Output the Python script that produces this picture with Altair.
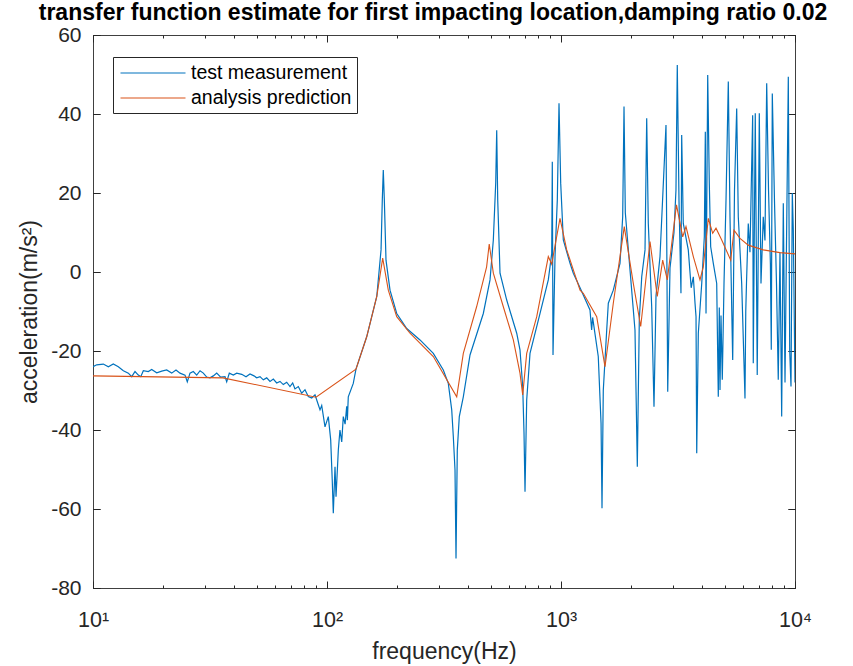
import altair as alt
import pandas as pd

# ---- data ----
blue_freq = [10.0, 10.37, 11.07, 11.63, 12.21, 12.83, 13.48, 14.16, 14.64, 15.12, 15.62, 16.0, 16.41, 17.23,
             17.82, 18.72, 19.67, 20.65, 21.69, 22.63, 23.54, 24.73, 25.29, 25.97, 26.83, 27.75, 28.67, 29.61,
             30.61, 31.62, 32.67, 33.78, 35.13, 36.65, 37.27, 38.24, 39.78, 41.13, 43.21, 45.07, 46.87, 48.75,
             50.08, 51.73, 53.44, 55.25, 57.08, 58.97, 60.95, 62.97, 65.05, 67.27, 69.48, 71.35, 72.98, 75.40,
             77.97, 80.54, 83.20, 86.03, 88.87, 91.81, 93.35, 94.93, 98.06, 101.3, 103.7, 105.3, 106.4, 108.2,
             109.3, 111.8, 113.6, 115.6, 117.4, 119.5, 121.4, 122.2, 123.3, 129.5, 133.0, 147.8, 163.2, 170.2,
             172.3, 174.0, 175.8, 178.7, 185.9, 198.6, 219.1, 249.7, 284.7, 314.1, 329.9, 341.2, 346.6, 352.4,
             355.9, 360.4, 367.6, 382.4, 408.5, 465.6, 497.4, 513.8, 526.0, 531.2, 536.5, 548.8, 586.1, 646.8,
             667.9, 686.0, 694.9, 701.8, 713.5, 737.1, 813.6, 882.5, 912.7, 918.0, 924.4, 942.9, 964.3, 980.6,
             997.1, 1023, 1093, 1129, 1206, 1330, 1352, 1365, 1443, 1483, 1497, 1516, 1568, 1593, 1673, 1787,
             1835, 1859, 1883, 1972, 2071, 2119, 2161, 2213, 2286, 2324, 2361, 2441, 2497, 2547, 2649, 2810,
             2858, 2923, 3040, 3100, 3140, 3193, 3256, 3279, 3331, 3499, 3600, 3677, 3740, 3776, 3802, 3862,
             3994, 4097, 4138, 4166, 4236, 4303, 4362, 4476, 4628, 4701, 4748, 4781, 4828, 4890, 4973, 5072,
             5188, 5275, 5417, 5514, 5634, 5723, 5918, 6054, 6113, 6160, 6204, 6314, 6420, 6593, 6632, 6764,
             6896, 7038, 7156, 7318, 7441, 7569, 7706, 7850, 7919, 7998, 8172, 8335, 8481, 8626, 8772, 8913,
             9064, 9216, 9363, 9493, 9614, 9738, 9834, 10000]
blue_val = [-24.0, -23.5, -23.3, -24.0, -23.3, -24.0, -25.0, -25.6, -26.5, -25.2, -26.1, -26.5, -25.0, -25.2,
            -24.7, -25.5, -25.1, -24.8, -25.6, -24.8, -25.6, -26.1, -27.8, -25.6, -25.2, -26.1, -25.0, -25.6,
            -26.6, -26.8, -26.3, -25.6, -26.6, -26.5, -27.8, -25.6, -26.1, -25.6, -25.9, -26.5, -25.8, -26.3,
            -26.8, -26.5, -27.3, -26.8, -27.7, -27.1, -28.1, -27.7, -28.5, -27.9, -29.0, -28.1, -29.6, -29.0,
            -30.7, -29.8, -31.5, -31.9, -31.1, -33.6, -34.9, -33.8, -39.2, -36.6, -42.5, -52.7, -61.1, -49.3,
            -56.9, -45.0, -40.0, -43.0, -36.6, -38.5, -34.0, -37.5, -31.6, -28.2, -24.6, -16.4, -6.2, 5.6,
            18.2, 25.8, 18.2, 3.0, -4.6, -10.5, -14.3, -17.2, -20.6, -24.8, -28.2, -34.9, -41.7, -50.1,
            -72.5, -45.1, -36.6, -31.6, -21.0, -10.5, -2.0, 8.1, 22.5, 35.9, 18.2, -0.3, -7.1, -15.5,
            -19.7, -29.0, -40.8, -55.6, -32.4, -20.6, -10.5, -2.0, 4.7, 27.9, -21.0, 4.0, 18.2, 42.7,
            22.5, 8.1, 2.2, -0.3, -4.0, -9.6, -14.7, -11.5, -21.4, -38.3, -59.8, -30.0, -14.7, -7.9, -4.6, 2.2,
            14.0, 41.9, 15.0, 0.5, -14.7, -49.3, -12.0, -1.2, 5.6, 38.9, 12.3, -8.8, -34.1, -6.0, 3.9, 37.2,
            -30.3, 1.0, 10.0, 20.8, 52.4, 18.2, -5.4, 34.7, 12.3, 5.6, -4.0, -1.2, -8.0, -11.3, -45.9, -15.5,
            -2.9, 8.9, 35.5, -10.5, 49.9, 22.5, 6.4, 2.2, -2.9, -31.6, -9.0, -29.9, -11.0, -27.3, -2.9, 18.2,
            48.2, 14.0, -22.3, 20.8, 41.4, 14.0, -2.9, -23.1, -32.0, -10.0, -2.9, 12.3, 5.0, 39.7, -23.1, 40.2,
            -26.1, 40.2, -2.9, 14.0, 8.0, 47.8, 20.8, 2.0, -19.7, 45.2, 18.0, -2.9, -27.3, 5.0, -36.6, 17.4,
            -28.0, 12.0, 49.4, -20.0, -29.0, 20.0, 10.6, -28.0]

orange_freq = [10.0, 35.94, 89.74, 133.0, 147.8, 163.2, 173.0, 182.8, 198.6, 226.3, 284.7, 358.4, 382.4,
               435.9, 481.0, 493.5, 513.8, 566.9, 625.6, 667.9, 686.0, 713.5, 787.5, 882.5, 912.7, 990.2,
               1058, 1206, 1245, 1421, 1542, 1673, 1864, 2037, 2191, 2401, 2579, 2720, 2847, 3115, 3312,
               3421, 3677, 3926, 4056, 4262, 4449, 4596, 4862, 5312, 5487, 5821, 6314, 7318, 8626, 10000]
orange_val = [-26.3, -26.8, -31.7, -24.6, -16.4, -6.2, 3.5, -4.6, -11.3, -15.5, -21.4, -31.6, -20.6,
              -8.8, 1.3, 7.1, -0.3, -8.8, -17.2, -25.6, -31.1, -20.6, -11.3, 3.9, 2.0, 13.6,
              5.6, -4.6, -5.4, -11.3, -24.0, -7.9, 11.5, -2.9, -13.8, 7.7, -6.2, 3.0, -2.0, 17.0, 8.9,
              11.5, 3.9, -2.0, 1.3, 13.6, 9.8, 11.1, 8.1, 3.0, 10.6, 8.5, 6.8, 5.6, 4.9, 4.6]

series_names = ["test measurement", "analysis prediction"]
series_colors = ["#0072BD", "#D95319"]
x_minor_ticks = [10, 20, 30, 40, 50, 60, 70, 80, 90, 100, 200, 300, 400, 500, 600, 700, 800, 900,
                 1000, 2000, 3000, 4000, 5000, 6000, 7000, 8000, 9000, 10000]
x_major_ticks = [10, 100, 1000, 10000]
y_ticks = [-80, -60, -40, -20, 0, 20, 40, 60]

df_blue = pd.DataFrame({"freq": blue_freq, "acc": blue_val, "series": series_names[0],
                        "idx": list(range(len(blue_freq)))})
df_orange = pd.DataFrame({"freq": orange_freq, "acc": orange_val, "series": series_names[1],
                          "idx": list(range(len(orange_freq)))})

FONT = "Liberation Sans"
AX = "#262626"
MINOR = 3
MAJOR = 7

xscale = alt.Scale(type="log", domain=[10, 10000], nice=False)
yscale = alt.Scale(domain=[-80, 60], nice=False)

color = alt.Color(
    "series:N",
    scale=alt.Scale(domain=series_names, range=series_colors),
    legend=alt.Legend(
        title="", orient="none", legendX=20, legendY=22,
        symbolType="M-3.25,0H3.25", symbolSize=400, symbolStrokeWidth=1.2,
        symbolOffset=24, labelOffset=27,
        labelFontSize=19.5, labelFont=FONT, labelColor="#000000",
        strokeColor=AX, fillColor="white", padding=5, rowPadding=4,
        cornerRadius=0, labelLimit=400,
    ),
)

label_expr = ("datum.value == 10 ? '10¹' : datum.value == 100 ? '10²' : "
              "datum.value == 1000 ? '10³' : datum.value == 10000 ? '10⁴' : ''")


def tick_axis(orient, values, size):
    return alt.Axis(orient=orient, values=values, labels=False, tickSize=size, offset=-size,
                    domain=False, grid=False, tickColor=AX, title="")


blue = alt.Chart(df_blue).mark_line(strokeWidth=1.2, clip=True).encode(
    x=alt.X("freq:Q", scale=xscale, axis=alt.Axis(
        orient="bottom", values=x_minor_ticks, labelExpr=label_expr, tickSize=MINOR, offset=-MINOR,
        domain=False, grid=False, labelFontSize=21.5, labelFont=FONT, labelColor=AX,
        labelPadding=21, labelFlush=False, labelOverlap=False, tickColor=AX,
        title="frequency(Hz)", titleFont=FONT, titleFontSize=23, titleFontWeight="normal",
        titleColor=AX, titlePadding=10)),
    y=alt.Y("acc:Q", scale=yscale, axis=alt.Axis(
        orient="left", values=y_ticks, labelExpr="'' + datum.value", tickSize=MAJOR, offset=-MAJOR,
        domain=False, grid=False,
        labelFontSize=21, labelFont=FONT, labelColor=AX, labelPadding=12, tickColor=AX,
        title="acceleration(m/s²)", titleFont=FONT, titleFontSize=23, titleFontWeight="normal",
        titleColor=AX, titlePadding=9)),
    color=color,
    order=alt.Order("idx:Q"),
)

orange = alt.Chart(df_orange).mark_line(strokeWidth=1.1, clip=True).encode(
    x=alt.X("freq:Q", scale=xscale, axis=tick_axis("top", x_minor_ticks, MINOR)),
    y=alt.Y("acc:Q", scale=yscale, axis=tick_axis("right", y_ticks, MAJOR)),
    color=color,
    order=alt.Order("idx:Q"),
)

# invisible layers that only carry the longer decade ticks
major_bottom = alt.Chart(df_orange).mark_line(opacity=0).encode(
    x=alt.X("freq:Q", scale=xscale, axis=tick_axis("bottom", x_major_ticks, MAJOR)),
    y=alt.Y("acc:Q", scale=yscale, axis=tick_axis("left", y_ticks, MAJOR)),
)
major_top = alt.Chart(df_orange).mark_line(opacity=0).encode(
    x=alt.X("freq:Q", scale=xscale, axis=tick_axis("top", x_major_ticks, MAJOR)),
    y=alt.Y("acc:Q", scale=yscale, axis=tick_axis("right", y_ticks, MAJOR)),
)

chart = alt.layer(blue, orange, major_bottom, major_top).resolve_axis(
    x="independent", y="independent"
).properties(
    width=702, height=553,
    padding={"left": 93, "top": 35, "right": 58, "bottom": 78},
    autosize=alt.AutoSizeParams(type="none"),
    title=alt.Title(
        "transfer function estimate for first impacting location,damping ratio 0.02",
        fontSize=23, font=FONT, fontWeight="bold", color="#000000", anchor="middle",
        dx=-11, dy=7.5, offset=7),
    background="white",
).configure_view(stroke="#404040", strokeWidth=1)

chart.save("out.html", embed_options={"renderer": "svg", "actions": False})
